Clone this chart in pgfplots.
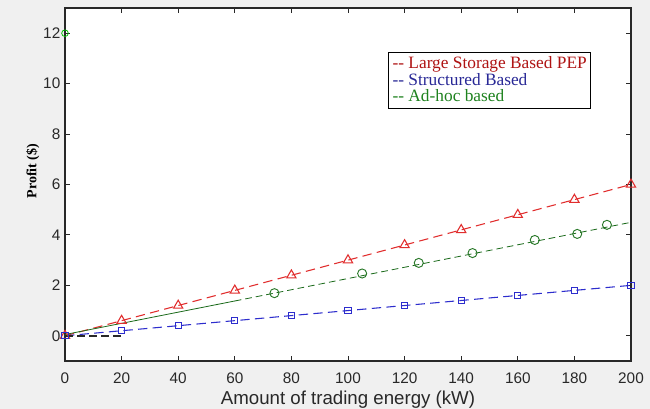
\documentclass[border=0pt]{standalone}
\usepackage{pgfplots}
\pgfplotsset{compat=1.18}
\usepackage{fontspec}
\setmainfont{Liberation Serif}
\setsansfont{Liberation Sans}
\definecolor{bg}{RGB}{240,240,240}
\definecolor{axgray}{RGB}{40,40,40}
\definecolor{lsred}{RGB}{225,45,45}
\definecolor{stblue}{RGB}{45,45,205}
\definecolor{adgreen}{RGB}{25,105,25}
\definecolor{adcirc}{RGB}{40,120,40}
\definecolor{legred}{RGB}{175,20,20}
\definecolor{legblue}{RGB}{40,40,150}
\definecolor{leggreen}{RGB}{30,130,30}

\begin{document}
\begin{tikzpicture}[x=0.75pt,y=0.75pt]
\fill[bg] (0,0) rectangle (650,409);
\begin{axis}[
    at={(48.75pt,36pt)}, anchor=south west,
    scale only axis,
    width=424.5pt, height=264.75pt,
    xmin=0, xmax=200, ymin=-1, ymax=13,
    xtick={0,20,...,200}, ytick={0,2,...,12},
    tick align=inside,
    axis line style={axgray, line width=0.9pt},
    tick style={axgray, line width=0.7pt},
    major tick length=3.5pt,
    axis background/.style={fill=white},
    ticklabel style={font=\sffamily\fontsize{11.5}{13}\selectfont, text=axgray},
    xticklabel style={yshift=-5pt},
    /pgf/number format/assume math mode=true,
    xlabel={\sffamily\fontsize{14}{16}\selectfont Amount of trading energy (kW)},
    xlabel style={text=axgray, yshift=1pt},
    ylabel={\bfseries\fontsize{10.5}{12}\selectfont Profit (\$)},
    ylabel style={text=black, yshift=-4pt, xshift=10pt},
    legend style={at={(0.571,0.875)}, anchor=north west, draw=black, line width=0.6pt,
        font=\fontsize{13}{14}\selectfont, inner sep=1pt, row sep=-2pt,
        /tikz/every even column/.append style={column sep=0pt}},
    legend cell align=left,
    clip=false,
]
\addplot[lsred, dash pattern=on 7pt off 4pt, line width=0.8pt, mark=triangle, mark size=4pt,
    mark options={solid, line width=0.8pt}, forget plot] coordinates {
    (0,0) (20,0.6) (40,1.2) (60,1.8) (80,2.4) (100,3.0)
    (120,3.6) (140,4.2) (160,4.8) (180,5.4) (200,6.0)
};
\addplot[stblue, dash pattern=on 7pt off 4pt, line width=0.8pt, mark=square, mark size=2.3pt,
    mark options={solid, line width=0.8pt}, forget plot] coordinates {
    (0,0) (20,0.2) (40,0.4) (60,0.6) (80,0.8) (100,1.0)
    (120,1.2) (140,1.4) (160,1.6) (180,1.8) (200,2.0)
};
\addplot[adgreen, line width=0.6pt, forget plot] coordinates {
    (0,0.05) (60,1.38)
};
\addplot[adgreen, dash pattern=on 5pt off 3pt, line width=0.6pt, forget plot] coordinates {
    (60,1.38) (200,4.5)
};
\addplot[adcirc, only marks, mark=o, mark size=3.4pt, mark options={line width=0.7pt}, forget plot] coordinates {
    (74,1.69) (105,2.47) (125,2.89) (144,3.28) (166,3.8) (181,4.04) (191.5,4.4)
};
\addplot[axgray, dash pattern=on 6pt off 3pt, line width=1.3pt, forget plot] coordinates {
    (0,0) (20,0)
};
\addplot[green!75!black, only marks, mark=o, mark size=2.5pt, mark options={line width=0.6pt}, forget plot] coordinates {
    (0,12)
};
\addlegendimage{empty legend}
\addlegendentry{\textcolor{legred}{-{}- Large Storage Based PEP}}
\addlegendimage{empty legend}
\addlegendentry{\textcolor{legblue}{-{}- Structured Based}}
\addlegendimage{empty legend}
\addlegendentry{\textcolor{leggreen}{-{}- Ad-hoc based}}
\end{axis}
\pgfresetboundingbox
\useasboundingbox (0,0) rectangle (650,409);
\end{tikzpicture}
\end{document}
